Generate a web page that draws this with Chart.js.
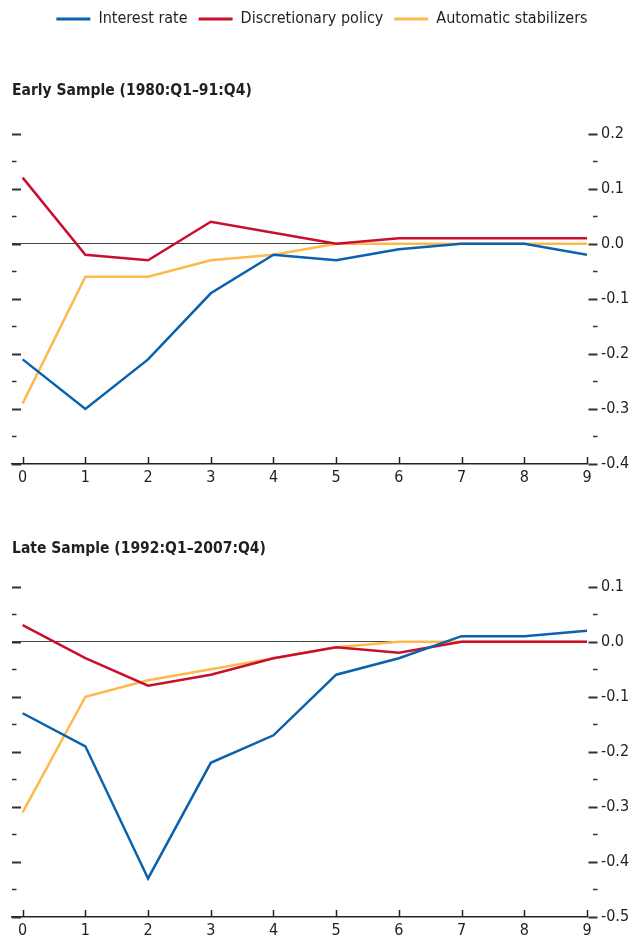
<!DOCTYPE html>
<html>
<head>
<meta charset="utf-8">
<script src="https://cdn.jsdelivr.net/npm/chart.js@4.4.0/dist/chart.umd.min.js"></script>
<style>
  html, body { margin: 0; padding: 0; background: #fff; overflow: hidden; }
  #wrap { position: relative; width: 632px; height: 943px; }
  .box { position: absolute; left: 0; width: 632px; }
  #box1 { top: 0; height: 490px; }
  #box2 { top: 491px; height: 452px; }
</style>
</head>
<body>
<div id="wrap">
  <div class="box" id="box1"><canvas id="earlyChart"></canvas></div>
  <div class="box" id="box2"><canvas id="lateChart"></canvas></div>
</div>
<script>
// horizons (quarters after shock)
const quarters = [0, 1, 2, 3, 4, 5, 6, 7, 8, 9];
const seriesNames = ['Interest rate', 'Discretionary policy', 'Automatic stabilizers'];
const seriesColors = ['#0a62ad', '#c8102e', '#fdb94e'];

// Early Sample (1980:Q1-91:Q4)
const earlyInterest      = [-0.21, -0.30, -0.21, -0.09, -0.02, -0.03, -0.01, 0.00, 0.00, -0.02];
const earlyDiscretionary = [ 0.12, -0.02, -0.03,  0.04,  0.02,  0.00,  0.01, 0.01, 0.01,  0.01];
const earlyAutomatic     = [-0.29, -0.06, -0.06, -0.03, -0.02,  0.00,  0.00, 0.00, 0.00,  0.00];

// Late Sample (1992:Q1-2007:Q4)
const lateInterest      = [-0.13, -0.19, -0.43, -0.22, -0.17, -0.06, -0.03, 0.01, 0.01, 0.02];
const lateDiscretionary = [ 0.03, -0.03, -0.08, -0.06, -0.03, -0.01, -0.02, 0.00, 0.00, 0.00];
const lateAutomatic     = [-0.31, -0.10, -0.07, -0.05, -0.03, -0.01,  0.00, 0.00, 0.00, 0.00];

const fontFamily = "'Liberation Sans Narrow', 'DejaVu Sans Condensed', 'Roboto', sans-serif";
const textColor = '#231f20';

// tick marks: y ticks every 0.05 on both sides, x ticks pointing up
const tickMarks = {
    id: 'tickMarks',
    afterDraw(chart) {
        const { ctx, chartArea: a, scales: { x, y } } = chart;
        ctx.save();
        ctx.strokeStyle = '#333';
        const n = Math.round((y.max - y.min) / 0.05);
        for (let i = 0; i <= n; i++) {
            const py = Math.round(y.getPixelForValue(y.min + i * 0.05)) + 0.5;
            const major = i % 2 === 0;
            const len = major ? 9 : 4.5;
            ctx.lineWidth = major ? 1.8 : 1.4;
            ctx.beginPath();
            ctx.moveTo(a.left, py);
            ctx.lineTo(a.left + len, py);
            ctx.moveTo(a.right + 10.5 - len, py);
            ctx.lineTo(a.right + 10.5, py);
            ctx.stroke();
        }
        ctx.strokeStyle = '#222';
        ctx.lineWidth = 1.5;
        x.ticks.forEach(t => {
            const px = Math.round(x.getPixelForValue(t.value)) + 0.5;
            ctx.beginPath();
            ctx.moveTo(px, a.bottom);
            ctx.lineTo(px, a.bottom - 7);
            ctx.stroke();
        });
        ctx.restore();
    }
};

function makeChart(id, series, yMin, yMax, title, showLegend, titlePad) {
    const ctx = document.getElementById(id).getContext('2d');
    return new Chart(ctx, {
        type: 'line',
        data: {
            datasets: series.map((vals, i) => ({
                label: seriesNames[i],
                data: quarters.map((q, k) => ({ x: q, y: vals[k] })),
                borderColor: seriesColors[i],
                backgroundColor: seriesColors[i],
                borderWidth: 2.5,
                pointRadius: 0,
                tension: 0
            }))
        },
        options: {
            responsive: true,
            maintainAspectRatio: false,
            animation: false,
            layout: { padding: { left: 12, right: 0, top: 0, bottom: 0 } },
            plugins: {
                legend: {
                    display: showLegend,
                    position: 'top',
                    weight: 3000,
                    labels: {
                        color: textColor,
                        font: { family: fontFamily, size: 16 },
                        boxWidth: 34,
                        boxHeight: 3,
                        padding: 11,
                        generateLabels: c => Chart.defaults.plugins.legend.labels.generateLabels(c)
                            .map(l => ({ ...l, lineWidth: 0 }))
                    }
                },
                title: {
                    display: true,
                    text: title,
                    align: 'start',
                    color: textColor,
                    font: { family: fontFamily, size: 15.5, weight: 'bold' },
                    padding: titlePad
                },
                tooltip: { enabled: false }
            },
            scales: {
                x: {
                    type: 'linear',
                    min: -0.17,
                    max: 9,
                    afterFit: s => { s.height = 26; },
                    grid: { drawOnChartArea: false, drawTicks: false },
                    border: { display: true, color: '#222', width: 1.5 },
                    ticks: {
                        stepSize: 1,
                        includeBounds: false,
                        padding: 4,
                        color: textColor,
                        font: { family: fontFamily, size: 16 },
                        callback: v => Number.isInteger(v) ? v : ''
                    }
                },
                y: {
                    position: 'right',
                    min: yMin,
                    max: yMax,
                    afterFit: s => { s.width = 45; },
                    grid: {
                        drawTicks: false,
                        lineWidth: 1,
                        color: c => Math.abs(c.tick.value) < 1e-9 ? '#444' : 'transparent'
                    },
                    border: { display: false },
                    ticks: {
                        stepSize: 0.1,
                        padding: 14,
                        color: textColor,
                        font: { family: fontFamily, size: 16 },
                        callback: v => Math.abs(v) < 1e-9 ? '0.0' : v.toFixed(1)
                    }
                }
            }
        },
        plugins: [tickMarks]
    });
}

makeChart('earlyChart', [earlyInterest, earlyDiscretionary, earlyAutomatic], -0.4, 0.2,
    'Early Sample (1980:Q1\u201391:Q4)', true, { top: 45, bottom: 33 });
makeChart('lateChart', [lateInterest, lateDiscretionary, lateAutomatic], -0.5, 0.1,
    'Late Sample (1992:Q1\u20132007:Q4)', false, { top: 49, bottom: 28 });
</script>
</body>
</html>
